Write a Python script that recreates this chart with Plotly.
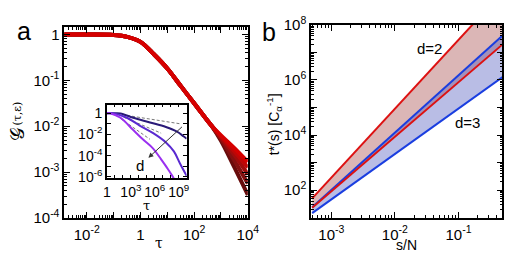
import plotly.graph_objects as go

# ---------------- data ----------------
# Panel a: main curves, log10(tau) and log10(G)
log_tau_common = [-2.84, -2.0, -1.0, -0.5, 0.0, 0.5, 1.0, 1.5, 2.0, 2.5, 2.65]
log_g_common = [0.0, 0.0, -0.01, -0.05, -0.16, -0.43, -0.74, -1.12, -1.5, -1.88, -1.99]
log_tau_tail = [3.0, 3.5, 4.0]
log_g_tails = [
    [-2.32, -2.9, -3.5],
    [-2.28, -2.75, -3.25],
    [-2.25, -2.63, -3.05],
    [-2.22, -2.55, -2.9],
    [-2.2, -2.48, -2.78],
]
main_colors = ["#680c0c", "#841010", "#a00c0c", "#bd0606", "#d60000"]

# Inset curves
inset_tau_A = [0.0, 1.0, 1.7, 3.3, 5.4, 7.4, 8.8, 9.6, 10.0]
inset_g_A = [0.0, 0.0, -0.02, -0.43, -0.87, -1.3, -1.74, -2.17, -2.4]
inset_tau_B = [0.0, 0.9, 2.5, 4.1, 5.8, 7.4, 8.4, 9.2, 10.0]
inset_g_B = [0.0, -0.02, -0.43, -1.16, -1.88, -2.75, -3.6, -4.78, -5.9]
inset_tau_C = [0.0, 0.5, 1.7, 3.3, 4.5, 5.8, 6.8, 7.6, 8.2, 8.5]
inset_g_C = [0.0, -0.02, -0.43, -1.59, -2.46, -3.33, -4.35, -5.2, -5.9, -6.3]
inset_colors = ["#2a1a78", "#5a2ad0", "#9a30f0"]
dash_tau = [[1.9, 9.2], [2.1, 6.8], [1.7, 5.4]]
dash_g = [[-0.14, -1.0], [-0.38, -1.88], [-0.5, -2.46]]

# Panel b
sN = [5e-4, 0.5]
t_red_hi = [50, 1.6e9]
t_red_lo = [23, 2.0e7]
t_blue_hi = [24, 4.2e7]
t_blue_lo = [14.5, 1.3e6]

FONT = "Liberation Sans, Arial, sans-serif"

fig = go.Figure()

# --- panel a main curves
for tail, col in zip(log_g_tails, main_colors):
    xs = [10 ** v for v in log_tau_common + log_tau_tail]
    ys = [10 ** v for v in log_g_common + tail]
    fig.add_trace(go.Scatter(x=xs, y=ys, mode="lines", line=dict(color=col, width=4, shape="spline"),
                             xaxis="x", yaxis="y", showlegend=False))

# --- inset
for tx, gy in zip(dash_tau, dash_g):
    fig.add_trace(go.Scatter(x=[10 ** v for v in tx], y=[10 ** v for v in gy], mode="lines",
                             line=dict(color="#555555", width=0.8, dash="3px,2px"),
                             xaxis="x3", yaxis="y3", showlegend=False))
for tx, gy, col in zip([inset_tau_A, inset_tau_B, inset_tau_C], [inset_g_A, inset_g_B, inset_g_C], inset_colors):
    fig.add_trace(go.Scatter(x=[10 ** v for v in tx], y=[10 ** v for v in gy], mode="lines",
                             line=dict(color=col, width=2, shape="spline"),
                             xaxis="x3", yaxis="y3", showlegend=False))

# --- panel b fills
fig.add_trace(go.Scatter(x=sN, y=t_red_lo, mode="lines", line=dict(width=0), xaxis="x2", yaxis="y2", showlegend=False))
fig.add_trace(go.Scatter(x=sN, y=t_red_hi, mode="lines", line=dict(width=0), fill="tonexty",
                         fillcolor="rgba(170,80,80,0.42)", xaxis="x2", yaxis="y2", showlegend=False))
fig.add_trace(go.Scatter(x=sN, y=t_blue_lo, mode="lines", line=dict(width=0), xaxis="x2", yaxis="y2", showlegend=False))
fig.add_trace(go.Scatter(x=sN, y=t_blue_hi, mode="lines", line=dict(width=0), fill="tonexty",
                         fillcolor="rgba(80,90,190,0.4)", xaxis="x2", yaxis="y2", showlegend=False))
for ys, col in [(t_red_hi, "#dd1111"), (t_blue_lo, "#1a3ee0"), (t_blue_hi, "#1a3ee0"), (t_red_lo, "#dd1111")]:
    fig.add_trace(go.Scatter(x=sN, y=ys, mode="lines", line=dict(color=col, width=2),
                             xaxis="x2", yaxis="y2", showlegend=False))


def minor_vals(lo, hi):
    out = []
    for e in range(lo, hi + 1):
        for m in range(2, 10):
            out.append(m * 10.0 ** e)
    return out


def decade_ticks(lo, hi, label_every, offset=0):
    vals, texts = [], []
    for e in range(lo, hi + 1):
        vals.append(10.0 ** e)
        if (e - offset) % label_every == 0:
            texts.append("1" if e == 0 else "10<sup>%d</sup>" % e)
        else:
            texts.append("")
    return vals, texts


common = dict(type="log", showgrid=False, zeroline=False, showline=True, linecolor="black", linewidth=1.5,
              mirror="ticks", ticks="inside", tickcolor="black", tickwidth=1,
              tickfont=dict(family=FONT, size=15, color="black"))

ax_x_v, ax_x_t = decade_ticks(-3, 4, 2)
ax_y_v, ax_y_t = decade_ticks(-4, 0, 1)
bx_x_v, bx_x_t = decade_ticks(-4, 0, 1)
bx_y_v, bx_y_t = decade_ticks(1, 8, 2)
ix_v, ix_t = decade_ticks(0, 10, 3)
iy_v, iy_t = decade_ticks(-6, 0, 2)

fig.update_layout(
    width=525, height=263, margin=dict(l=0, r=0, t=0, b=0),
    paper_bgcolor="white", plot_bgcolor="white",
    xaxis=dict(common, domain=[0.1181, 0.4781], range=[-2.84, 4.0], tickmode="array", tickvals=ax_x_v,
               ticktext=ax_x_t, ticklen=6, ticklabelstandoff=2,
               minor=dict(tickmode="array", tickvals=minor_vals(-3, 3), ticks="inside", ticklen=3, tickcolor="black"),
               anchor="y"),
    yaxis=dict(common, domain=[0.1521, 0.9354], range=[-4, 0.17], tickmode="array", tickvals=ax_y_v,
               ticktext=ax_y_t, ticklen=6,
               minor=dict(tickmode="array", tickvals=minor_vals(-4, 0), ticks="inside", ticklen=3, tickcolor="black"),
               anchor="x"),
    xaxis2=dict(common, domain=[0.6019, 0.9771], range=[-3.32, -0.31], tickmode="array", tickvals=bx_x_v,
                ticktext=bx_x_t, ticklen=6, ticklabelstandoff=2,
                minor=dict(tickmode="array", tickvals=minor_vals(-4, -1), ticks="inside", ticklen=3, tickcolor="black"),
                anchor="y2"),
    yaxis2=dict(common, domain=[0.1521, 0.943], range=[0.99, 8.0], tickmode="array", tickvals=bx_y_v,
                ticktext=bx_y_t, ticklen=6,
                minor=dict(tickmode="array", tickvals=minor_vals(0, 7), ticks="inside", ticklen=3, tickcolor="black"),
                anchor="x2"),
    xaxis3=dict(common, domain=[0.2019, 0.3581], range=[0, 10.0], tickmode="array", tickvals=ix_v,
                ticktext=ix_t, ticklen=3, anchor="y3", tickfont=dict(family=FONT, size=14, color="black")),
    yaxis3=dict(common, domain=[0.3156, 0.616], range=[-6.1, 0.8], tickmode="array", tickvals=iy_v,
                ticktext=iy_t, ticklen=4, anchor="x3", tickfont=dict(family=FONT, size=14, color="black")),
)


def ann(text, x, y, size=14, angle=0, family=FONT):
    fig.add_annotation(text=text, x=x / 525, y=1 - y / 263, xref="paper", yref="paper", showarrow=False,
                       xanchor="center", yanchor="middle",
                       textangle=angle, font=dict(family=family, size=size, color="black"))


ann("a", 21, 22, size=25)
ann("b", 273, 23, size=25)
ann("𝒢", 14, 133, size=19, angle=-90, family="DejaVu Serif, serif")
ann("(τ,ε)", 14, 111, size=11, angle=-90, family="DejaVu Serif, serif")
ann("τ", 160, 250, size=14, family="DejaVu Serif, serif")
ann("τ", 147, 210, size=13, family="DejaVu Serif, serif")
ann("s/N", 414, 252, size=14)
ann("t*(s) [C<sub>α</sub><sup>-1</sup>]", 278, 122, size=14, angle=-90)
ann("d=2", 438, 40, size=15)
ann("d=3", 477, 120, size=15)

# inset arrow and label
fig.add_annotation(x=5.2, y=-4.2, ax=9.6, ay=-1.16, xref="x3", yref="y3", axref="x3", ayref="y3",
                   showarrow=True, arrowhead=2, arrowsize=1, arrowwidth=1, arrowcolor="#333333", text="")
fig.add_annotation(x=4.1, y=-4.95, xref="x3", yref="y3", text="d", showarrow=False,
                   xanchor="center", yanchor="middle",
                   font=dict(family=FONT, size=15, color="black"))

fig.write_html("out.html")
